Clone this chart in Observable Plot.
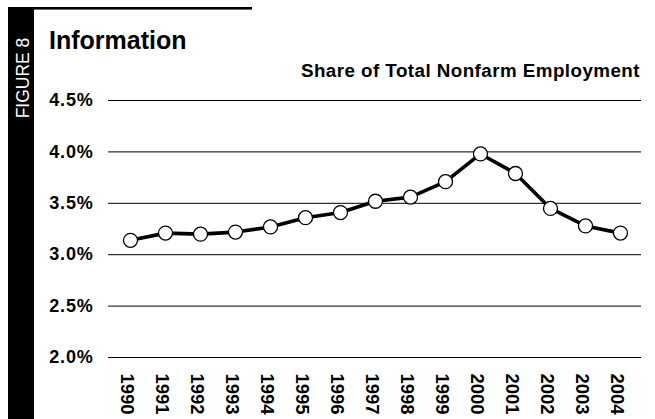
<!DOCTYPE html>
<html>
<head>
<meta charset="utf-8">
<script src="https://cdn.jsdelivr.net/npm/d3@7"></script>
<script src="https://cdn.jsdelivr.net/npm/@observablehq/plot@0.6"></script>
<style>
  html, body { margin: 0; padding: 0; background: #fff; }
  #chart { position: relative; width: 655px; height: 419px; overflow: hidden; }
</style>
</head>
<body>
<div id="chart"></div>
<script>
const years = ["1990","1991","1992","1993","1994","1995","1996","1997","1998","1999","2000","2001","2002","2003","2004"];
const shares = [3.14, 3.21, 3.20, 3.22, 3.27, 3.36, 3.41, 3.52, 3.56, 3.71, 3.98, 3.79, 3.45, 3.28, 3.21];
const yTicks = [2.0, 2.5, 3.0, 3.5, 4.0, 4.5];
const figureLabel = "FIGURE 8";
const title = "Information";
const subtitle = "Share of Total Nonfarm Employment";

const data = years.map((y, i) => ({year: y, share: shares[i]}));
const font = "'Liberation Sans', Arial, Helvetica, sans-serif";

const svg = Plot.plot({
  width: 655,
  height: 419,
  marginLeft: 108,
  marginRight: 14,
  marginTop: 100,
  marginBottom: 62,
  style: {fontFamily: font, background: "#fff", color: "#000"},
  x: {type: "point", domain: years, padding: 0.53},
  y: {domain: [2, 4.5]},
  marks: [
    Plot.ruleY(yTicks, {stroke: "#000", strokeWidth: 1}),
    Plot.axisY({ticks: yTicks, tickSize: 0, tickPadding: 15, tickFormat: d => d.toFixed(1) + "%",
      fontSize: 18, fontWeight: "bold", fill: "#000", label: null}),
    Plot.axisX({tickSize: 0, tickPadding: 16, tickRotate: 90, fontSize: 18.5, fontWeight: "bold",
      fill: "#000", label: null, dx: -4}),
    Plot.line(data, {x: "year", y: "share", stroke: "#000", strokeWidth: 3.6, strokeLinejoin: "round"}),
    Plot.dot(data, {x: "year", y: "share", r: 7, fill: "#fff", stroke: "#000", strokeWidth: 1.3})
  ]
});

const s = d3.select(svg);
s.selectAll('[aria-label="y-axis tick label"] text').attr("letter-spacing", "0.8");

// decorative frame: black side bar and top rule
s.append("rect").attr("x", 8).attr("y", 7).attr("width", 26).attr("height", 420).attr("fill", "#000");
s.append("rect").attr("x", 34).attr("y", 7).attr("width", 218).attr("height", 2.6).attr("fill", "#000");
s.append("text").text(figureLabel)
  .attr("transform", "translate(28.5,78) rotate(-90)")
  .attr("text-anchor", "middle")
  .attr("fill", "#fff")
  .attr("font-family", font)
  .attr("font-size", 17.5);
s.append("text").text(title)
  .attr("x", 49).attr("y", 49)
  .attr("text-anchor", "start")
  .attr("font-family", font).attr("font-weight", "bold").attr("font-size", 25).attr("fill", "#000");
s.append("text").text(subtitle)
  .attr("x", 640).attr("y", 77)
  .attr("text-anchor", "end")
  .attr("letter-spacing", "0.45")
  .attr("font-family", font).attr("font-weight", "bold").attr("font-size", 18.8).attr("fill", "#000");

document.getElementById("chart").appendChild(svg);
</script>
</body>
</html>
